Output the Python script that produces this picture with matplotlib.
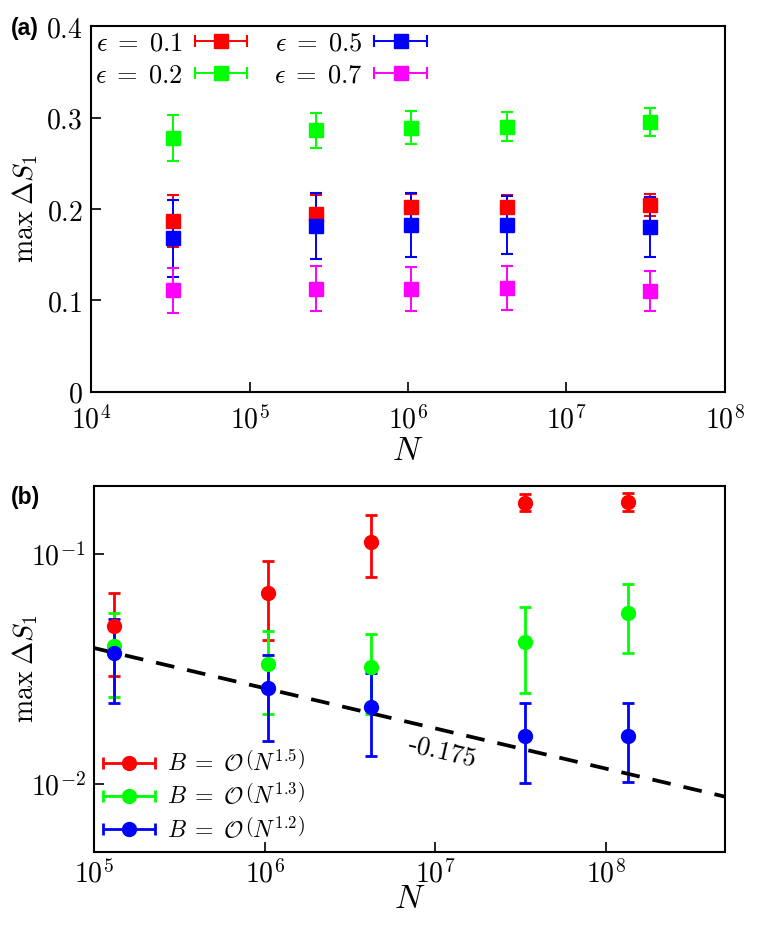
import numpy as np
import matplotlib
matplotlib.use("Agg")
import matplotlib.pyplot as plt
from matplotlib.container import ErrorbarContainer
from matplotlib.legend_handler import HandlerErrorbar
from matplotlib.ticker import FixedLocator, FuncFormatter, NullLocator

plt.rcParams["mathtext.fontset"] = "cm"

# ============================================================
# --- Panel (a) data ---
# ============================================================
N_a = np.array([2**15, 2**18, 2**20, 2**22, 2**25])

eps_labels = [r"$\epsilon\;=\;0.1$", r"$\epsilon\;=\;0.2$", r"$\epsilon\;=\;0.5$", r"$\epsilon\;=\;0.7$"]
eps_colors = ["#ff0000", "#00ff00", "#0000ff", "#ff00ff"]

s_eps01 = [0.187, 0.195, 0.202, 0.2025, 0.2044]
e_eps01 = [0.028, 0.020, 0.014, 0.013, 0.012]
s_eps02 = [0.278, 0.286, 0.289, 0.290, 0.295]
e_eps02 = [0.025, 0.019, 0.018, 0.016, 0.015]
s_eps05 = [0.168, 0.181, 0.182, 0.1825, 0.180]
e_eps05 = [0.042, 0.036, 0.035, 0.032, 0.033]
s_eps07 = [0.111, 0.113, 0.113, 0.1135, 0.110]
e_eps07 = [0.0245, 0.0245, 0.024, 0.024, 0.022]

# ============================================================
# --- Panel (b) data ---
# ============================================================
N_b = np.array([2**17, 2**20, 2**22, 2**25, 2**27])

B_labels = [r"$B\;=\;\mathcal{O}\,\left(N^{1.5}\right)$",
            r"$B\;=\;\mathcal{O}\,\left(N^{1.3}\right)$",
            r"$B\;=\;\mathcal{O}\,\left(N^{1.2}\right)$"]
B_colors = ["#ff0000", "#00ff00", "#0000ff"]

s_B15 = [0.0488, 0.0678, 0.1135, 0.168, 0.1694]
lo_B15 = [0.0296, 0.0425, 0.0794, 0.1543, 0.155]
hi_B15 = [0.068, 0.0938, 0.1486, 0.1836, 0.1855]
s_B13 = [0.0399, 0.0332, 0.0324, 0.0417, 0.0553]
lo_B13 = [0.0240, 0.0201, 0.0201, 0.0250, 0.0371]
hi_B13 = [0.0557, 0.0464, 0.0449, 0.0588, 0.0743]
s_B12 = [0.0373, 0.0261, 0.0217, 0.0162, 0.0162]
lo_B12 = [0.0226, 0.0154, 0.0132, 0.0101, 0.0102]
hi_B12 = [0.0521, 0.0365, 0.0305, 0.0225, 0.0225]

# guide line: slope -0.175 through (1e5, 0.0391)
fit_N = np.array([1e5, 5e8])
fit_amp = 0.0391
fit_slope = -0.175


def log_fmt(v, pos):
    return r"$10^{%d}$" % int(round(np.log10(v)))


def horiz_handle(c, label):
    # legend entry drawn with a horizontal bar, like the original figure
    return ErrorbarContainer(c.lines, has_xerr=True, has_yerr=False, label=label)


fig = plt.figure(figsize=(7.59, 9.31), dpi=100)

# ============================================================
# --- PLOT (a) ---
# ============================================================
ax1 = fig.add_axes([0.1199, 0.579, 0.8353, 0.393])
series_a = [(s_eps01, e_eps01), (s_eps02, e_eps02), (s_eps05, e_eps05), (s_eps07, e_eps07)]
handles_a = []
for (s, e), col, lab in zip(series_a, eps_colors, eps_labels):
    c = ax1.errorbar(N_a, s, yerr=e, fmt="s", color=col, ms=9.5, capsize=4,
                     elinewidth=1.4, capthick=1.5)
    handles_a.append(horiz_handle(c, lab))

ax1.set_xscale("log")
ax1.set_xlim(1e4, 1e8)
ax1.set_ylim(0, 0.4)
ax1.xaxis.set_major_locator(FixedLocator([1e4, 1e5, 1e6, 1e7, 1e8]))
ax1.xaxis.set_minor_locator(NullLocator())
ax1.xaxis.set_major_formatter(FuncFormatter(log_fmt))
ax1.yaxis.set_major_locator(FixedLocator([0, 0.1, 0.2, 0.3, 0.4]))
ax1.yaxis.set_major_formatter(FuncFormatter(lambda v, p: "$0$" if v == 0 else r"$%.1f$" % v))
ax1.tick_params(direction="in", length=7, width=1.2, labelsize=20)
ax1.tick_params(axis="x", pad=10)
ax1.tick_params(axis="y", pad=6)
ax1.set_xlabel(r"$N$", fontsize=24, labelpad=0)
ax1.set_ylabel(r"$\max\;\Delta S_1$", fontsize=20)
ax1.yaxis.set_label_coords(-0.08, 0.5)
for sp in ax1.spines.values():
    sp.set_linewidth(1.5)

ax1.legend(handles=handles_a, ncol=2, loc="upper left", frameon=False, fontsize=19,
           markerfirst=False, handletextpad=0.45, columnspacing=1.0, labelspacing=0.25,
           borderaxespad=0.05, borderpad=0.1, handlelength=2.0,
           handler_map={ErrorbarContainer: HandlerErrorbar(xerr_size=1.0)})

# ============================================================
# --- PLOT (b) ---
# ============================================================
ax2 = fig.add_axes([0.1238, 0.0849, 0.8314, 0.3934])
series_b = [(s_B15, lo_B15, hi_B15), (s_B13, lo_B13, hi_B13), (s_B12, lo_B12, hi_B12)]
handles_b = []
for (s, lo, hi), col, lab in zip(series_b, B_colors, B_labels):
    s = np.array(s)
    err = [s - np.array(lo), np.array(hi) - s]
    c = ax2.errorbar(N_b, s, yerr=err, fmt="o", color=col, ms=10, capsize=4,
                     elinewidth=2.0, capthick=2.0)
    handles_b.append(horiz_handle(c, lab))

ax2.plot(fit_N, fit_amp * (fit_N / 1e5) ** fit_slope, color="black", ls=(0, (5, 3.5)), lw=2.7)
ax2.text(1.1e7, 0.0139, r"$\mathit{\text{-}0.175}$", fontsize=19, rotation=-13,
         ha="center", va="center")

ax2.set_xscale("log")
ax2.set_yscale("log")
ax2.set_xlim(1e5, 5e8)
ax2.set_ylim(0.00506, 0.199)
ax2.xaxis.set_major_locator(FixedLocator([1e5, 1e6, 1e7, 1e8]))
ax2.xaxis.set_minor_locator(NullLocator())
ax2.xaxis.set_major_formatter(FuncFormatter(log_fmt))
ax2.yaxis.set_major_locator(FixedLocator([1e-2, 1e-1]))
ax2.yaxis.set_minor_locator(NullLocator())
ax2.yaxis.set_major_formatter(FuncFormatter(log_fmt))
ax2.tick_params(direction="in", length=7, width=1.2, labelsize=20, pad=6)
ax2.set_xlabel(r"$N$", fontsize=24, labelpad=-5)
ax2.set_ylabel(r"$\max\;\Delta S_1$", fontsize=20)
ax2.yaxis.set_label_coords(-0.086, 0.5)
for sp in ax2.spines.values():
    sp.set_linewidth(1.5)

ax2.legend(handles=handles_b, loc="lower left", frameon=False, fontsize=17,
           handletextpad=0.5, labelspacing=0.3, borderaxespad=0.3, borderpad=0.1,
           handlelength=2.2,
           handler_map={ErrorbarContainer: HandlerErrorbar(xerr_size=1.1)})

fig.text(0.014, 0.969, "(a)", fontsize=16.5, fontweight="bold", family="Liberation Sans",
         va="center")
fig.text(0.014, 0.466, "(b)", fontsize=16.5, fontweight="bold", family="Liberation Sans",
         va="center")

fig.savefig("out.png", dpi=100)
